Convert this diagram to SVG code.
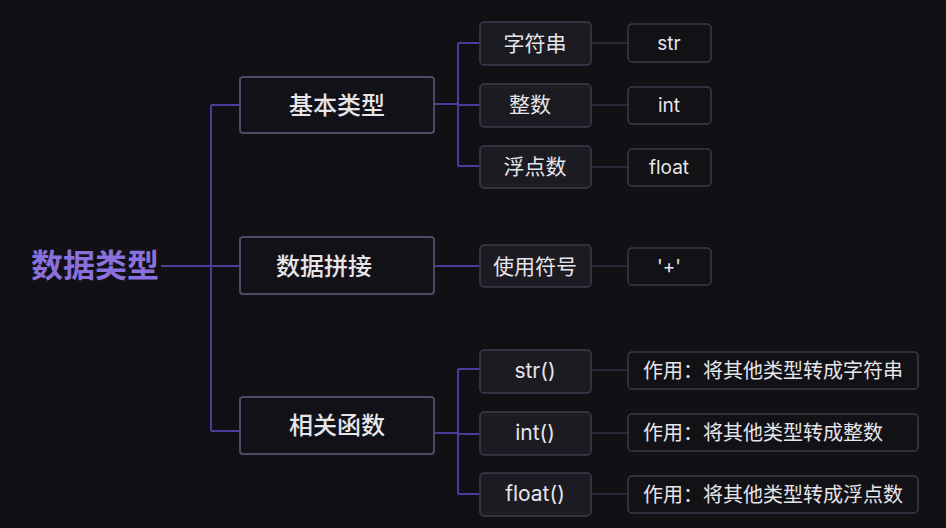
<svg xmlns="http://www.w3.org/2000/svg" width="946" height="528" viewBox="0 0 946 528">
<style>
text{font-family:Inter,"Noto Sans CJK SC","Noto Sans",sans-serif;fill:#e6e5ea;text-anchor:middle;dominant-baseline:central}
.l1 rect{fill:#121117;stroke:#4e4966;stroke-width:2}
.l2 rect{fill:#1c1b22;stroke:#3e3b4d;stroke-width:1.5}
.l3 rect{fill:#121116;stroke:#3d3a4c;stroke-width:1.5}
.l1 text{font-size:24px;font-weight:500}
.l2 text{font-size:21px}
.l3 text{font-size:19px}
.main{stroke:#4a3d9a;stroke-width:2;fill:none}
.sub{stroke:#34304a;stroke-width:1.5;fill:none}
</style>
<rect width="946" height="528" fill="#111015"/>
<g id="connectors">
<path class="main" d="M161 266H240M211 105V431M211 105H240M211 431H240"/>
<path class="main" d="M434 104H458M458 43V166M458 43H480M458 105H480M458 166H480"/>
<path class="main" d="M434 266H480"/>
<path class="main" d="M434 433H458M458 369V494M458 369H480M458 434H480M458 494H480"/>
<path class="sub" d="M590 43H628M590 105H628M590 167H628M590 266H628M590 370H628M590 433H628M590 494H628"/>
</g>
<g id="root"><text x="95" y="265" style="font-size:32px;font-weight:bold;fill:#8a70dc">数据类型</text></g>
<g id="n-basic" class="l1"><rect x="240" y="77" width="194" height="56" rx="3"/><text x="337" y="105">基本类型</text></g>
<g id="n-concat" class="l1"><rect x="240" y="237" width="194" height="57" rx="3"/><text x="324" y="266">数据拼接</text></g>
<g id="n-func" class="l1"><rect x="240" y="397" width="194" height="57" rx="3"/><text x="337" y="425">相关函数</text></g>
<g id="n-string" class="l2"><rect x="480" y="22" width="111" height="43" rx="4"/><text x="535" y="43">字符串</text></g>
<g id="n-int" class="l2"><rect x="480" y="84" width="111" height="43" rx="4"/><text x="530" y="104">整数</text></g>
<g id="n-float" class="l2"><rect x="480" y="146" width="111" height="42" rx="4"/><text x="535" y="166">浮点数</text></g>
<g id="n-symbol" class="l2"><rect x="480" y="245" width="111" height="42" rx="4"/><text x="535" y="266">使用符号</text></g>
<g id="n-strf" class="l2"><rect x="480" y="350" width="111" height="43" rx="4"/><text x="535" y="370">str()</text></g>
<g id="n-intf" class="l2"><rect x="480" y="412" width="111" height="43" rx="4"/><text x="535" y="432">int()</text></g>
<g id="n-floatf" class="l2"><rect x="480" y="473" width="111" height="43" rx="4"/><text x="535" y="493">float()</text></g>
<g id="n-str" class="l3"><rect x="628" y="24" width="83" height="38" rx="4"/><text x="669" y="43">str</text></g>
<g id="n-intv" class="l3"><rect x="628" y="87" width="83" height="37" rx="4"/><text x="669" y="105">int</text></g>
<g id="n-floatv" class="l3"><rect x="628" y="149" width="83" height="37" rx="4"/><text x="669" y="167">float</text></g>
<g id="n-plus" class="l3"><rect x="628" y="248" width="83" height="37" rx="4"/><text x="669" y="266">'+'</text></g>
<g id="n-d1" class="l3"><rect x="628" y="352" width="290" height="37" rx="4"/><text x="643" y="371" style="text-anchor:start;font-size:20px">作用：将其他类型转成字符串</text></g>
<g id="n-d2" class="l3"><rect x="628" y="414" width="290" height="37" rx="4"/><text x="643" y="433" style="text-anchor:start;font-size:20px">作用：将其他类型转成整数</text></g>
<g id="n-d3" class="l3"><rect x="628" y="476" width="290" height="37" rx="4"/><text x="643" y="495" style="text-anchor:start;font-size:20px">作用：将其他类型转成浮点数</text></g>
</svg>
